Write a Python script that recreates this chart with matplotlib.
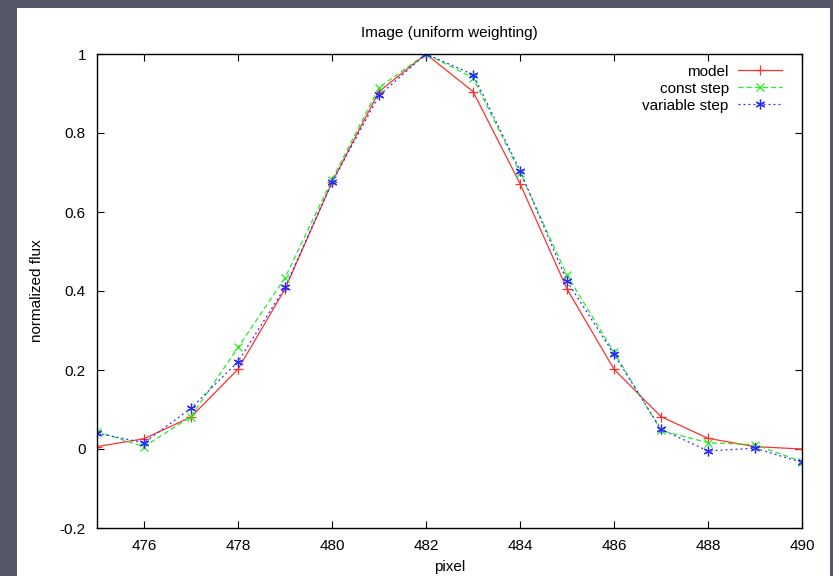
import numpy as np
import matplotlib.pyplot as plt
from matplotlib.patches import Rectangle

# ---------------- datos ----------------
pixel = np.arange(475, 491)
model = [0.006, 0.026, 0.081, 0.202, 0.405, 0.675, 0.905, 1.0,
         0.905, 0.672, 0.405, 0.202, 0.082, 0.027, 0.006, 0.0]
const_step = [0.044, 0.006, 0.082, 0.257, 0.433, 0.682, 0.915, 1.0,
              0.94, 0.70, 0.44, 0.245, 0.047, 0.016, 0.011, -0.032]
variable_step = [0.040, 0.016, 0.103, 0.221, 0.409, 0.675, 0.895, 1.0,
                 0.948, 0.705, 0.425, 0.240, 0.050, -0.005, 0.002, -0.034]

yticks = [-0.2, 0, 0.2, 0.4, 0.6, 0.8, 1]
ytick_labels = ['-0.2', '0', '0.2', '0.4', '0.6', '0.8', '1']
xticks = [476, 478, 480, 482, 484, 486, 488, 490]

plt.rcParams['font.family'] = ['Liberation Sans', 'DejaVu Sans']
fs = 11

W, H = 833, 576
fig = plt.figure(figsize=(W / 100, H / 100), dpi=100)
fig.patch.set_facecolor('#56586a')
# hoja blanca
fig.add_artist(Rectangle((17 / W, 0), (830 - 17) / W, (576 - 8) / H,
                         transform=fig.transFigure, facecolor='white',
                         edgecolor='none', zorder=0))

ax = fig.add_axes([97 / W, (H - 528) / H, (802 - 97) / W, (528 - 54) / H])
ax.set_facecolor('white')

ax.plot(pixel, model, color='#ff3030', lw=0.9, marker='+', ms=7, mew=0.9,
        label='model')
ax.plot(pixel, const_step, color='#22ee22', lw=0.9, ls=(0, (4, 2.5)),
        marker='x', ms=6, mew=0.9, label='const step')
ax.plot(pixel, variable_step, color='#2a2aff', lw=0.9, ls=(0, (1.5, 2.5)),
        marker=(6, 2, 0), ms=7, mew=0.9, label='variable step')

ax.set_xlim(475, 490)
ax.set_ylim(-0.2, 1)
ax.set_xticks(xticks)
ax.set_yticks(yticks)
ax.set_yticklabels(ytick_labels)
ax.tick_params(direction='in', length=5, width=0.8, top=True, right=True,
               labelsize=fs, pad=8)
for s in ax.spines.values():
    s.set_linewidth(1.0)

ax.set_title('Image (uniform weighting)', fontsize=fs, pad=12)
ax.set_xlabel('pixel', fontsize=fs, labelpad=5)
ax.set_ylabel('normalized flux', fontsize=fs, labelpad=11)

leg = ax.legend(loc='upper right', markerfirst=False, frameon=False,
                fontsize=fs, handlelength=2.9, handletextpad=0.6,
                labelspacing=0.2, borderaxespad=0.3,
                bbox_to_anchor=(0.987, 1.0))
for t in leg.get_texts():
    t.set_ha('right')

plt.savefig('out.png', dpi=100, facecolor=fig.get_facecolor())
